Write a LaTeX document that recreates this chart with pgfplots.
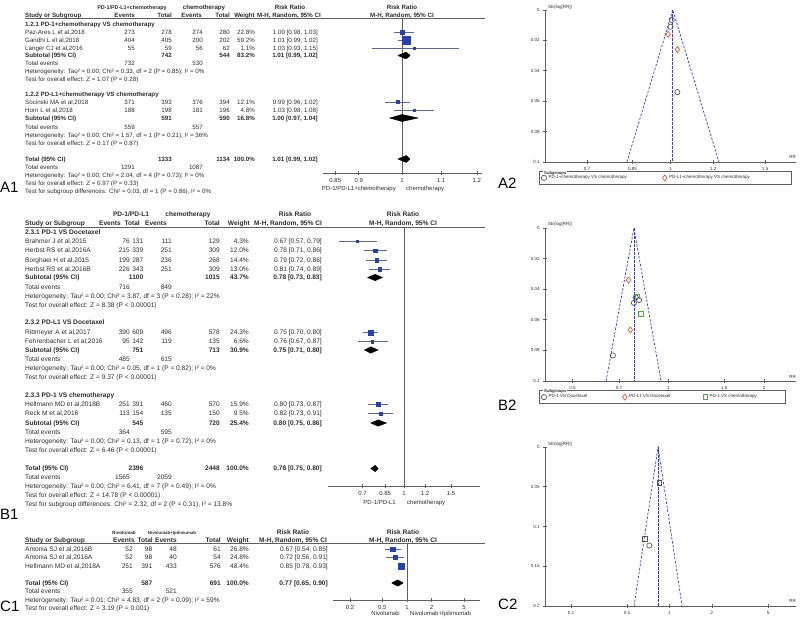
\documentclass[border=0pt]{standalone}
\usepackage{fontspec}
\setmainfont{Liberation Sans}
\usepackage{pgfplots}
\pgfplotsset{compat=1.18}

\definecolor{txt}{RGB}{45,45,45}
\definecolor{sq}{RGB}{40,65,175}
\definecolor{ci}{RGB}{95,105,135}
\definecolor{fun}{RGB}{55,65,200}
\definecolor{mgray}{RGB}{85,85,85}
\definecolor{mred}{RGB}{232,85,60}
\definecolor{mgreen}{RGB}{70,175,70}
\definecolor{ax}{RGB}{95,95,95}

% one table row: y, name, events, total, events, total, weight, risk ratio
\newcommand\drow[8]{%
  \node[L] at (25,#1) {#2};
  \node[R] at (\ca,#1) {#3};
  \node[R] at (\cb,#1) {#4};
  \node[R] at (\cc,#1) {#5};
  \node[R] at (\cd,#1) {#6};
  \node[R] at (\ce,#1) {#7};
  \node[R] at (\cf,#1) {#8};}

% one study in a forest plot: estimate, lower, upper, y, half side of square
\newcommand\study[5]{%
  \addplot[ci, line width=0.7pt] coordinates {(#2,#4) (#3,#4)};
  \addplot[only marks, mark=square*, sq, mark size=#5pt] coordinates {(#1,#4)};}

\begin{document}
\begin{tikzpicture}
\useasboundingbox (0,0) rectangle (800pt,-621pt);

\begin{scope}[x=1pt, y=-1pt, every node/.style={inner sep=0pt, text=txt},
  L/.style={anchor=west}, R/.style={anchor=east}, C/.style={anchor=center}]

% ---------------- A1 table
\begin{scope}[every node/.append style={font=\fontsize{6.2}{7}\selectfont, text height=4.45pt, text depth=0pt}]
\def\ca{135}\def\cb{172}\def\cc{203}\def\cd{230}\def\ce{255}\def\cf{318}
\node[C, font=\fontsize{5.4}{6}\selectfont\bfseries] at (132,7) {PD-1/PD-L1+chemotherapy};
\node[C] at (204,7) {\bfseries chemotherapy};
\node[C] at (290,7) {\bfseries Risk Ratio};
\node[C] at (402,7) {\bfseries Risk Ratio};
\node[L] at (25,15) {\bfseries Study or Subgroup};
\node[R] at (135,15) {\bfseries Events};
\node[R] at (172,15) {\bfseries Total};
\node[R] at (202,15) {\bfseries Events};
\node[R] at (230,15) {\bfseries Total};
\node[R] at (255,15) {\bfseries Weight};
\node[C] at (289,15) {\bfseries M-H, Random, 95\% CI};
\node[C] at (402,15) {\bfseries M-H, Random, 95\% CI};
\node[L] at (25,24) {\bfseries 1.2.1 PD-1+chemotherapy VS chemotherapy};
\drow{32}{Paz-Ares L et al,2018}{273}{278}{274}{280}{22.8\%}{1.00 [0.98, 1.03]}
\drow{40}{Gandhi L et al,2018}{404}{405}{200}{202}{59.2\%}{1.01 [0.99, 1.02]}
\drow{48}{Langer CJ et al,2016}{55}{59}{56}{62}{1.1\%}{1.03 [0.93, 1.15]}
\drow{55.5}{\bfseries Subtotal (95\% CI)}{}{\bfseries 742}{}{\bfseries 544}{\bfseries 83.2\%}{\bfseries 1.01 [0.99, 1.02]}
\drow{63}{Total events}{732}{}{530}{}{}{}
\node[L] at (25,71) {Heterogeneity: Tau² = 0.00; Chi² = 0.33, df = 2 (P = 0.85); I² = 0\%};
\node[L] at (25,79) {Test for overall effect: Z = 1.07 (P = 0.28)};
\node[L] at (25,94) {\bfseries 1.2.2 PD-L1+chemotherapy VS chemotherapy};
\drow{102}{Socinski MA et al,2018}{371}{393}{376}{394}{12.1\%}{0.99 [0.96, 1.02]}
\drow{110}{Horn L et al,2018}{188}{198}{181}{196}{4.8\%}{1.03 [0.98, 1.08]}
\drow{118}{\bfseries Subtotal (95\% CI)}{}{\bfseries 591}{}{\bfseries 590}{\bfseries 16.8\%}{\bfseries 1.00 [0.97, 1.04]}
\drow{127}{Total events}{559}{}{557}{}{}{}
\node[L] at (25,135) {Heterogeneity: Tau² = 0.00; Chi² = 1.57, df = 1 (P = 0.21); I² = 36\%};
\node[L] at (25,143) {Test for overall effect: Z = 0.17 (P = 0.87)};
\drow{159}{\bfseries Total (95\% CI)}{}{\bfseries 1333}{}{\bfseries 1134}{\bfseries 100.0\%}{\bfseries 1.01 [0.99, 1.02]}
\drow{167}{Total events}{1291}{}{1087}{}{}{}
\node[L] at (25,175) {Heterogeneity: Tau² = 0.00; Chi² = 2.04, df = 4 (P = 0.73); I² = 0\%};
\node[L] at (25,183) {Test for overall effect: Z = 0.97 (P = 0.33)};
\node[L] at (25,191) {Test for subgroup differences: Chi² = 0.03, df = 1 (P = 0.86), I² = 0\%};
\end{scope}
\begin{scope}[every node/.append style={font=\fontsize{6}{7}\selectfont, text height=4.3pt, text depth=0pt}]
\node[R] at (396,188) {PD-1/PD-L1+chemotherapy};
\node[L] at (406,188) {chemotherapy};
\end{scope}
\draw[ax, line width=0.8pt] (25,18.5) -- (485,18.5);

% ---------------- B1 table
\begin{scope}[every node/.append style={font=\fontsize{6.6}{7.6}\selectfont, text height=4.75pt, text depth=0pt}]
\def\ca{130}\def\cb{143.5}\def\cc{172}\def\cd{220}\def\ce{249}\def\cf{322}
\node[C] at (131,214) {\bfseries PD-1/PD-L1};
\node[C] at (188,214) {\bfseries chemotherapy};
\node[C] at (295,214) {\bfseries Risk Ratio};
\node[C] at (403,214) {\bfseries Risk Ratio};
\node[L] at (25,223.5) {\bfseries Study or Subgroup};
\node[R] at (121,223.5) {\bfseries Events};
\node[R] at (140,223.5) {\bfseries Total};
\node[R] at (167,223.5) {\bfseries Events};
\node[R] at (220,223.5) {\bfseries Total};
\node[R] at (250,223.5) {\bfseries Weight};
\node[C] at (288,223.5) {\bfseries M-H, Random, 95\% CI};
\node[C] at (403,223.5) {\bfseries M-H, Random, 95\% CI};
\node[L] at (25,232) {\bfseries 2.3.1 PD-1 VS Docetaxel};
\drow{241}{Brahmer J et al,2015}{76}{131}{111}{129}{4.3\%}{0.67 [0.57, 0.79]}
\drow{250.5}{Herbst RS et al,2016A}{215}{339}{251}{309}{12.0\%}{0.78 [0.71, 0.86]}
\drow{260}{Borghaei H et al,2015}{199}{287}{236}{268}{14.4\%}{0.79 [0.72, 0.86]}
\drow{269}{Herbst RS et al,2016B}{226}{343}{251}{309}{13.0\%}{0.81 [0.74, 0.89]}
\drow{277.5}{\bfseries Subtotal (95\% CI)}{}{\bfseries 1100}{}{\bfseries 1015}{\bfseries 43.7\%}{\bfseries 0.78 [0.73, 0.83]}
\drow{287}{Total events}{716}{}{849}{}{}{}
\node[L] at (25,296) {Heterogeneity: Tau² = 0.00; Chi² = 3.87, df = 3 (P = 0.28); I² = 22\%};
\node[L] at (25,305) {Test for overall effect: Z = 8.38 (P < 0.00001)};
\node[L] at (25,322.5) {\bfseries 2.3.2 PD-L1 VS Docetaxel};
\drow{332.5}{Rittmeyer A et al,2017}{390}{609}{496}{578}{24.3\%}{0.75 [0.70, 0.80]}
\drow{341.5}{Fehrenbacher L et al,2016}{95}{142}{119}{135}{6.6\%}{0.76 [0.67, 0.87]}
\drow{350}{\bfseries Subtotal (95\% CI)}{}{\bfseries 751}{}{\bfseries 713}{\bfseries 30.9\%}{\bfseries 0.75 [0.71, 0.80]}
\drow{359.5}{Total events}{485}{}{615}{}{}{}
\node[L] at (25,368) {Heterogeneity: Tau² = 0.00; Chi² = 0.05, df = 1 (P = 0.82); I² = 0\%};
\node[L] at (25,377.5) {Test for overall effect: Z = 9.37 (P < 0.00001)};
\node[L] at (25,395.5) {\bfseries 2.3.3 PD-1 VS chemotherapy};
\drow{404.5}{Hellmann MD et al,2018B}{251}{391}{460}{570}{15.9\%}{0.80 [0.73, 0.87]}
\drow{413.5}{Reck M et al,2016}{113}{154}{135}{150}{9.5\%}{0.82 [0.73, 0.91]}
\drow{423}{\bfseries Subtotal (95\% CI)}{}{\bfseries 545}{}{\bfseries 720}{\bfseries 25.4\%}{\bfseries 0.80 [0.75, 0.86]}
\drow{432.5}{Total events}{364}{}{595}{}{}{}
\node[L] at (25,441.5) {Heterogeneity: Tau² = 0.00; Chi² = 0.13, df = 1 (P = 0.72); I² = 0\%};
\node[L] at (25,450.5) {Test for overall effect: Z = 6.46 (P < 0.00001)};
\drow{468.5}{\bfseries Total (95\% CI)}{}{\bfseries 2396}{}{\bfseries 2448}{\bfseries 100.0\%}{\bfseries 0.78 [0.75, 0.80]}
\drow{477.5}{Total events}{1565}{}{2059}{}{}{}
\node[L] at (25,486.5) {Heterogeneity: Tau² = 0.00; Chi² = 6.41, df = 7 (P = 0.49); I² = 0\%};
\node[L] at (25,495.5) {Test for overall effect: Z = 14.78 (P < 0.00001)};
\node[L] at (25,504.5) {Test for subgroup differences: Chi² = 2.32, df = 2 (P = 0.31), I² = 13.8\%};
\end{scope}
\begin{scope}[every node/.append style={font=\fontsize{6}{7}\selectfont, text height=4.3pt, text depth=0pt}]
\node[R] at (396,502) {PD-1/PD-L1};
\node[L] at (407,502) {chemotherapy};
\end{scope}
\draw[ax, line width=0.8pt] (25,227) -- (485,227);

% ---------------- C1 table
\begin{scope}[every node/.append style={font=\fontsize{6.6}{7.6}\selectfont, text height=4.75pt, text depth=0pt}]
\def\ca{133}\def\cb{152.5}\def\cc{177}\def\cd{221}\def\ce{249}\def\cf{328}
\node[C, font=\fontsize{4.6}{5}\selectfont\bfseries] at (124,532) {Nivolumab};
\node[C, font=\fontsize{4.4}{5}\selectfont\bfseries] at (172,532) {Nivolumab+Ipilimumab};
\node[C] at (293,532) {\bfseries Risk Ratio};
\node[C] at (403,532) {\bfseries Risk Ratio};
\node[L] at (25,540) {\bfseries Study or Subgroup};
\node[R] at (135,540) {\bfseries Events};
\node[R] at (153,540) {\bfseries Total};
\node[R] at (177,540) {\bfseries Events};
\node[R] at (221,540) {\bfseries Total};
\node[R] at (249,540) {\bfseries Weight};
\node[C] at (293,540) {\bfseries M-H, Random, 95\% CI};
\node[C] at (403,540) {\bfseries M-H, Random, 95\% CI};
\drow{549}{Antonia SJ et al,2016B}{52}{98}{48}{61}{26.8\%}{0.67 [0.54, 0.85]}
\drow{557.5}{Antonia SJ et al,2016A}{52}{98}{40}{54}{24.8\%}{0.72 [0.56, 0.91]}
\drow{566}{Hellmann MD et al,2018A}{251}{391}{433}{576}{48.4\%}{0.85 [0.78, 0.93]}
\drow{583}{\bfseries Total (95\% CI)}{}{\bfseries 587}{}{\bfseries 691}{\bfseries 100.0\%}{\bfseries 0.77 [0.65, 0.90]}
\drow{591.5}{Total events}{355}{}{521}{}{}{}
\node[L] at (25,600) {Heterogeneity: Tau² = 0.01; Chi² = 4.83, df = 2 (P = 0.09); I² = 59\%};
\node[L] at (25,608.5) {Test for overall effect: Z = 3.19 (P = 0.001)};
\end{scope}
\begin{scope}[every node/.append style={font=\fontsize{6}{7}\selectfont, text height=4.3pt, text depth=0pt}]
\node[R] at (400,613) {Nivolumab};
\node[L] at (410,613) {Nivolumab+Ipilimumab};
\end{scope}
\draw[ax, line width=0.8pt] (25,543.5) -- (485,543.5);

% ---------------- funnel plot texts
\begin{scope}[every node/.append style={font=\fontsize{4.5}{5}\selectfont, text height=3.2pt, text depth=0pt}]
\node[L] at (548,7) {SE(log[RR])};
\node[R] at (796,157) {RR};
\node[L] at (548,224) {SE(log[RR])};
\node[R] at (796,377) {RR};
\node[L] at (548,444) {SE(log[RR])};
\node[R] at (796,601) {RR};
\end{scope}

% ---------------- panel labels
\begin{scope}[every node/.append style={font=\fontsize{15}{15}\selectfont, text=black, text height=10.7pt, text depth=0pt}]
\node[L] at (0,187) {A1};
\node[L] at (498,183) {A2};
\node[L] at (0,514) {B1};
\node[L] at (498,405) {B2};
\node[L] at (0,606) {C1};
\node[L] at (498,604) {C2};
\end{scope}
\end{scope}

% ---------------- A1 forest
\begin{axis}[xmode=log, scale only axis, clip=false, axis x line*=bottom, axis y line=none,
  at={(323pt,-173pt)}, anchor=south west,
  width=159pt, height=154.5pt, xmin=0.825, xmax=1.215, ymin=-173, ymax=-18.5,
  axis line style={ax, line width=0.8pt}, tick style={ax, line width=0.7pt},
  tick align=center, major tick length=4pt, minor xtick={},
  x tick label style={font=\fontsize{6}{6}\selectfont, text=txt},
  xtick={0.85,0.9,1,1.1,1.2}, xticklabels={0.85,0.9,1,1.1,1.2}]
\addplot[ax, line width=0.8pt] coordinates {(1,-18.5) (1,-173)};
\study{1.00}{0.98}{1.03}{-32}{2.2}
\study{1.01}{0.99}{1.02}{-40}{3.7}
\study{1.03}{0.93}{1.15}{-48}{0.8}
\addplot[black, fill=black] coordinates {(0.99,-55.5) (1.01,-52) (1.02,-55.5) (1.01,-59) (0.99,-55.5)};
\study{0.99}{0.96}{1.02}{-102}{1.6}
\study{1.03}{0.98}{1.08}{-110}{1.1}
\addplot[black, fill=black] coordinates {(0.97,-118) (1.00,-114.5) (1.04,-118) (1.00,-121.5) (0.97,-118)};
\addplot[black, fill=black] coordinates {(0.99,-159) (1.01,-155.5) (1.02,-159) (1.01,-162.5) (0.99,-159)};
\end{axis}

% ---------------- B1 forest
\begin{axis}[xmode=log, scale only axis, clip=false, axis x line*=bottom, axis y line=none,
  at={(328pt,-486pt)}, anchor=south west,
  width=152pt, height=259pt, xmin=0.519, xmax=1.927, ymin=-486, ymax=-227,
  axis line style={ax, line width=0.8pt}, tick style={ax, line width=0.7pt},
  tick align=center, major tick length=4pt, minor xtick={},
  x tick label style={font=\fontsize{6}{6}\selectfont, text=txt},
  xtick={0.7,0.85,1,1.2,1.5}, xticklabels={0.7,0.85,1,1.2,1.5}]
\addplot[ax, line width=0.8pt] coordinates {(1,-227) (1,-486)};
\study{0.67}{0.57}{0.79}{-241}{1.0}
\study{0.78}{0.71}{0.86}{-250.5}{1.65}
\study{0.79}{0.72}{0.86}{-260}{1.8}
\study{0.81}{0.74}{0.89}{-269}{1.7}
\addplot[black, fill=black] coordinates {(0.73,-277.5) (0.78,-274.3) (0.83,-277.5) (0.78,-280.7) (0.73,-277.5)};
\study{0.75}{0.70}{0.80}{-332.5}{2.35}
\study{0.76}{0.67}{0.87}{-341.5}{1.2}
\addplot[black, fill=black] coordinates {(0.71,-350) (0.75,-346.8) (0.80,-350) (0.75,-353.2) (0.71,-350)};
\study{0.80}{0.73}{0.87}{-404.5}{1.9}
\study{0.82}{0.73}{0.91}{-413.5}{1.45}
\addplot[black, fill=black] coordinates {(0.75,-423) (0.80,-419.8) (0.86,-423) (0.80,-426.2) (0.75,-423)};
\addplot[black, fill=black] coordinates {(0.75,-468.5) (0.78,-465.3) (0.80,-468.5) (0.78,-471.7) (0.75,-468.5)};
\end{axis}

% ---------------- C1 forest
\begin{axis}[xmode=log, scale only axis, clip=false, axis x line*=bottom, axis y line=none,
  at={(333pt,-600pt)}, anchor=south west,
  width=147pt, height=56.5pt, xmin=0.124, xmax=7.86, ymin=-600, ymax=-543.5,
  axis line style={ax, line width=0.8pt}, tick style={ax, line width=0.7pt},
  tick align=center, major tick length=4pt, minor xtick={},
  x tick label style={font=\fontsize{6}{6}\selectfont, text=txt},
  xtick={0.2,0.5,1,2,5}, xticklabels={0.2,0.5,1,2,5}]
\addplot[ax, line width=0.8pt] coordinates {(1,-543.5) (1,-600)};
\study{0.67}{0.54}{0.85}{-549}{2.2}
\study{0.72}{0.56}{0.91}{-557.5}{2.1}
\study{0.85}{0.78}{0.93}{-566}{3.2}
\addplot[black, fill=black] coordinates {(0.65,-583) (0.77,-579.8) (0.90,-583) (0.77,-586.2) (0.65,-583)};
\end{axis}

% ---------------- A2 funnel
\begin{axis}[xmode=log, scale only axis, clip=false, axis lines*=left,
  at={(545pt,-162pt)}, anchor=south west,
  width=251pt, height=152pt, xmin=0.585, xmax=1.71, ymin=-0.1, ymax=0,
  axis line style={ax, line width=0.9pt}, tick style={ax, line width=0.7pt},
  tick align=center, major tick length=3.5pt, minor xtick={},
  tick label style={font=\fontsize{4.5}{4.5}\selectfont, text=txt},
  xtick={0.7,0.85,1,1.2,1.5}, xticklabels={0.7,0.85,1,1.2,1.5},
  ytick={-0.1,-0.08,-0.06,-0.04,-0.02,0}, yticklabels={0.1,0.08,0.06,0.04,0.02,0},
  legend columns=-1, legend cell align=left,
  legend style={at={(-0.024,-0.059)}, anchor=north west, draw=ax, line width=0.7pt,
    font=\fontsize{4.5}{5}\selectfont, text=txt, inner xsep=2pt, inner ysep=2.2pt}]
\addplot[ax, line width=0.9pt, forget plot] coordinates {(0.585,0) (0.585,-0.1) (1.71,-0.1)};
\addplot[fun, dash pattern=on 2.5pt off 1.5pt, line width=0.7pt, forget plot] coordinates {(0.83,-0.1) (1.01,0) (1.23,-0.1)};
\addplot[fun, dash pattern=on 2.5pt off 1.5pt, line width=0.7pt, forget plot] coordinates {(1.01,0) (1.01,-0.1)};
\addplot[only marks, mark=o, mgray, mark size=2.6pt, line width=0.7pt] coordinates {(1.00,-0.011) (1.005,-0.0065) (1.03,-0.054)};
\addlegendentry{\makebox[112pt][l]{PD-1+chemotherapy VS chemotherapy}}
\addplot[only marks, mark=diamond, mred, mark size=3pt, line width=0.7pt] coordinates {(0.99,-0.016) (1.03,-0.026)};
\addlegendentry{\makebox[118pt][l]{PD-L1+chemotherapy VS chemotherapy}}
\end{axis}

% ---------------- B2 funnel
\begin{axis}[xmode=log, scale only axis, clip=false, axis lines*=left,
  at={(545pt,-381pt)}, anchor=south west,
  width=251pt, height=153pt, xmin=0.41, xmax=2.52, ymin=-0.1, ymax=0,
  axis line style={ax, line width=0.9pt}, tick style={ax, line width=0.7pt},
  tick align=center, major tick length=3.5pt, minor xtick={},
  tick label style={font=\fontsize{4.5}{4.5}\selectfont, text=txt},
  xtick={0.5,0.7,1,1.5,2}, xticklabels={0.5,0.7,1,1.5,2},
  ytick={-0.1,-0.08,-0.06,-0.04,-0.02,0}, yticklabels={0.1,0.08,0.06,0.04,0.02,0},
  legend columns=-1, legend cell align=left,
  legend style={at={(-0.024,-0.06)}, anchor=north west, draw=ax, line width=0.7pt,
    font=\fontsize{4.5}{5}\selectfont, text=txt, inner xsep=2pt, inner ysep=2.2pt}]
\addplot[ax, line width=0.9pt, forget plot] coordinates {(0.41,0) (0.41,-0.1) (2.52,-0.1)};
\addplot[fun, dash pattern=on 2.5pt off 1.5pt, line width=0.7pt, forget plot] coordinates {(0.638,-0.1) (0.78,0) (0.949,-0.1)};
\addplot[fun, dash pattern=on 2.5pt off 1.5pt, line width=0.7pt, forget plot] coordinates {(0.78,0) (0.78,-0.1)};
\addplot[only marks, mark=o, mgray, mark size=2.6pt, line width=0.7pt] coordinates {(0.67,-0.0833) (0.78,-0.0489) (0.79,-0.0453) (0.81,-0.0471)};
\addlegendentry{\makebox[72pt][l]{PD-1 VS Docetaxel}}
\addplot[only marks, mark=diamond, mred, mark size=3pt, line width=0.7pt] coordinates {(0.75,-0.0341) (0.76,-0.0666)};
\addlegendentry{\makebox[72pt][l]{PD-L1 VS Docetaxel}}
\addplot[only marks, mark=square, mgreen, mark size=2.3pt, line width=0.7pt] coordinates {(0.80,-0.0447) (0.82,-0.0562)};
\addlegendentry{\makebox[72pt][l]{PD-1 VS chemotherapy}}
\end{axis}

% ---------------- C2 funnel
\begin{axis}[xmode=log, scale only axis, clip=false, axis lines*=left,
  at={(545pt,-606pt)}, anchor=south west,
  width=251pt, height=159pt, xmin=0.131, xmax=7.9, ymin=-0.2, ymax=0,
  axis line style={ax, line width=0.9pt}, tick style={ax, line width=0.7pt},
  tick align=center, major tick length=3.5pt, minor xtick={},
  tick label style={font=\fontsize{4.5}{4.5}\selectfont, text=txt},
  xtick={0.2,0.5,1,2,5}, xticklabels={0.2,0.5,1,2,5},
  ytick={-0.2,-0.15,-0.1,-0.05,0}, yticklabels={0.2,0.15,0.1,0.05,0}]
\addplot[ax, line width=0.9pt] coordinates {(0.131,0) (0.131,-0.2) (7.9,-0.2)};
\addplot[fun, dash pattern=on 2.5pt off 1.5pt, line width=0.7pt] coordinates {(0.561,-0.2) (0.83,0) (1.229,-0.2)};
\addplot[fun, dash pattern=on 2.5pt off 1.5pt, line width=0.7pt] coordinates {(0.83,0) (0.83,-0.2)};
\addplot[only marks, mark=square, mgray, mark size=2.3pt, line width=0.7pt] coordinates {(0.85,-0.0449) (0.67,-0.1157)};
\addplot[only marks, mark=o, mgray, mark size=2.6pt, line width=0.7pt] coordinates {(0.72,-0.1239)};
\end{axis}

% legend titles over the legend frames
\begin{scope}[x=1pt, y=-1pt, every node/.style={inner sep=0pt, text=txt, anchor=west,
  font=\fontsize{4.2}{5}\selectfont, text height=3pt, text depth=0pt}]
\node[fill=white, inner xsep=1pt] at (543,172.5) {\bfseries Subgroups};
\node[fill=white, inner xsep=1pt] at (543,391) {\bfseries Subgroups};
\end{scope}
\end{tikzpicture}
\end{document}
